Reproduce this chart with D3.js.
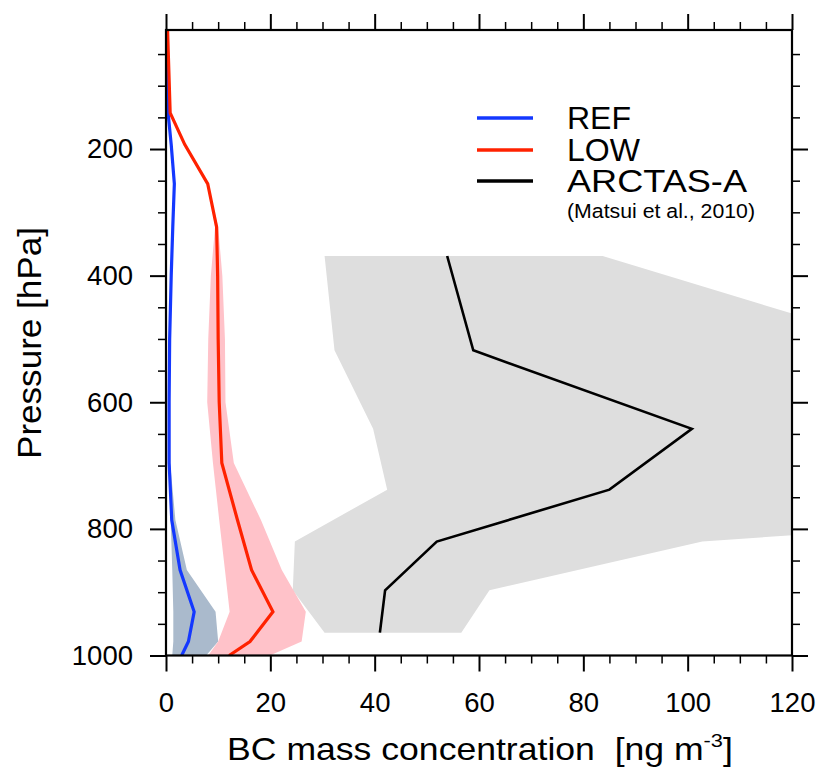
<!DOCTYPE html>
<html><head><meta charset="utf-8">
<script src="https://cdn.jsdelivr.net/npm/d3@7"></script>
<style>
html,body{margin:0;padding:0;background:#fff;}
svg{display:block;font-family:"Liberation Sans",Arial,Helvetica,sans-serif;}
</style></head>
<body><svg id="c" width="816" height="772"></svg>
<script>
// ---- data ----
const modelLevels = [12, 143, 193, 255, 323, 400, 500, 600, 696, 786, 865, 931, 978, 1000];
const refMean = [0.2, 0.4, 1.0, 1.6, 1.3, 1.0, 0.7, 0.6, 0.6, 1.1, 2.7, 5.4, 4.3, 3.0];
const refLo   = [0.2, 0.4, 1.0, 1.6, 1.3, 1.0, 0.7, 0.6, 0.5, 0.9, 1.2, 1.4, 1.4, 1.2];
const refHi   = [0.2, 0.4, 1.0, 1.6, 1.3, 1.0, 0.7, 0.6, 0.8, 1.8, 4.0, 9.5, 10.0, 7.7];
const lowMean = [0.3, 0.8, 3.6, 8.0, 9.7, 9.9, 10.0, 10.2, 10.7, 13.7, 16.4, 20.5, 16.1, 12.1];
const lowLo   = [0.3, 0.8, 3.6, 8.0, 9.4, 8.6, 8.1, 7.9, 9.0, 10.2, 11.3, 12.2, 10.0, 8.1];
const lowHi   = [0.3, 0.8, 3.6, 8.0, 10.0, 10.8, 11.3, 11.4, 13.0, 18.2, 22.2, 26.8, 26.0, 19.9];
const obsLevels = [369, 518, 642, 738, 820, 897, 964];
const obsMean = [53.9, 58.9, 100.8, 85.0, 51.9, 42.0, 41.0];
const obsLo   = [30.4, 32.3, 39.7, 42.4, 24.7, 24.3, 30.4];
const obsHi   = [83.7, 143.2, 180, 244, 102.8, 62.0, 56.6];
const xTicks = [0, 20, 40, 60, 80, 100, 120];
const yTicks = [200, 400, 600, 800, 1000];
const legendNames = ["REF", "LOW", "ARCTAS-A"];

// ---- layout ----
const svg = d3.select("#c");
const L = 166, R = 792, T = 30, B = 655.5;
const x = d3.scaleLinear().domain([0, 120]).range([L, R]);
const y = d3.scaleLinear().domain([12, 1000]).range([T, B]);

svg.append("defs").append("clipPath").attr("id", "clip")
  .append("rect").attr("x", L).attr("y", T).attr("width", R - L).attr("height", B - T);
const plot = svg.append("g").attr("clip-path", "url(#clip)");

function band(levels, lo, hi) {
  const pts = levels.map((p, i) => ({p, lo: lo[i], hi: hi[i]}));
  return d3.area().x0(d => x(d.lo)).x1(d => x(d.hi)).y(d => y(d.p))(pts);
}
function line(levels, vals) {
  return d3.line().x(d => x(d.v)).y(d => y(d.p))(levels.map((p, i) => ({p, v: vals[i]})));
}

plot.append("path").attr("d", band(obsLevels, obsLo, obsHi)).attr("fill", "#dedede");
plot.append("path").attr("d", band(modelLevels, refLo, refHi)).attr("fill", "#aabacc");
plot.append("path").attr("d", band(modelLevels, lowLo, lowHi)).attr("fill", "#ffc2c9");
plot.append("path").attr("d", line(obsLevels, obsMean)).attr("fill", "none").attr("stroke", "#000").attr("stroke-width", 2.6);
plot.append("path").attr("d", line(modelLevels, refMean)).attr("fill", "none").attr("stroke", "#1438ff").attr("stroke-width", 3.2);
plot.append("path").attr("d", line(modelLevels, lowMean)).attr("fill", "none").attr("stroke", "#ff2200").attr("stroke-width", 3.2);

// ---- axes ----
const xMinor = d3.range(0, 121, 5).filter(v => v % 20 !== 0);
const yMinor = d3.range(50, 1000, 50).filter(v => v % 200 !== 0);
function styleAxis(g, w) {
  g.select(".domain").remove();
  g.selectAll(".tick line").attr("stroke", "#000").attr("stroke-width", w);
}
const fs = 27.5;
// bottom
svg.append("g").attr("transform", `translate(0,${B})`)
  .call(d3.axisBottom(x).tickValues(xTicks).tickSize(16).tickPadding(21).tickFormat(d3.format("d")))
  .call(g => { styleAxis(g, 2); g.selectAll("text").attr("font-size", fs).attr("font-family", null).attr("fill", "#000"); });
svg.append("g").attr("transform", `translate(0,${B})`)
  .call(d3.axisBottom(x).tickValues(xMinor).tickSize(8).tickFormat(""))
  .call(g => styleAxis(g, 1.5));
// top
svg.append("g").attr("transform", `translate(0,${T})`)
  .call(d3.axisTop(x).tickValues(xTicks).tickSize(16).tickFormat(""))
  .call(g => styleAxis(g, 2));
svg.append("g").attr("transform", `translate(0,${T})`)
  .call(d3.axisTop(x).tickValues(xMinor).tickSize(8).tickFormat(""))
  .call(g => styleAxis(g, 1.5));
// left
svg.append("g").attr("transform", `translate(${L},0)`)
  .call(d3.axisLeft(y).tickValues(yTicks).tickSize(16).tickPadding(17).tickFormat(d3.format("d")))
  .call(g => { styleAxis(g, 2); g.selectAll("text").attr("font-size", fs).attr("font-family", null).attr("fill", "#000"); });
svg.append("g").attr("transform", `translate(${L},0)`)
  .call(d3.axisLeft(y).tickValues(yMinor).tickSize(8).tickFormat(""))
  .call(g => styleAxis(g, 1.5));
// right
svg.append("g").attr("transform", `translate(${R},0)`)
  .call(d3.axisRight(y).tickValues(yTicks).tickSize(16).tickFormat(""))
  .call(g => styleAxis(g, 2));
svg.append("g").attr("transform", `translate(${R},0)`)
  .call(d3.axisRight(y).tickValues(yMinor).tickSize(8).tickFormat(""))
  .call(g => styleAxis(g, 1.5));
// frame
svg.append("rect").attr("x", L).attr("y", T).attr("width", R - L).attr("height", B - T)
  .attr("fill", "none").attr("stroke", "#000").attr("stroke-width", 2.2);

// ---- axis titles ----
const xtG = svg.append("g");
const xt = xtG.append("text").attr("x", 0).attr("y", 0).attr("text-anchor", "middle")
  .attr("font-size", 31).attr("fill", "#000");
xt.append("tspan").text("BC mass concentration\u00a0\u00a0[ng m");
xt.append("tspan").attr("font-size", 19).attr("dy", -13).text("-3");
xt.append("tspan").attr("dy", 13).text("]");
const xtw = xt.node().getBBox().width;
xtG.attr("transform", `translate(480,760) scale(${506 / xtw},1)`);

svg.append("text").attr("transform", `translate(41,343) rotate(-90)`)
  .attr("text-anchor", "middle").attr("font-size", 34).attr("fill", "#000")
  .attr("textLength", 232).attr("lengthAdjust", "spacingAndGlyphs").text("Pressure [hPa]");

// ---- legend ----
const legColors = ["#1438ff", "#ff2200", "#000"];
const legY = [118, 150, 181];
legendNames.forEach((n, i) => {
  svg.append("line").attr("x1", 477).attr("x2", 533).attr("y1", legY[i]).attr("y2", legY[i])
    .attr("stroke", legColors[i]).attr("stroke-width", 3.5);
  const t = svg.append("text").attr("x", 567).attr("y", legY[i] + 11).attr("font-size", 32)
    .attr("fill", "#000").text(n);
  if (i === 2) t.attr("textLength", 180).attr("lengthAdjust", "spacingAndGlyphs");
});
svg.append("text").attr("x", 567).attr("y", 218).attr("font-size", 20.5).attr("fill", "#000")
  .attr("textLength", 188).attr("lengthAdjust", "spacingAndGlyphs").text("(Matsui et al., 2010)");
</script></body></html>
